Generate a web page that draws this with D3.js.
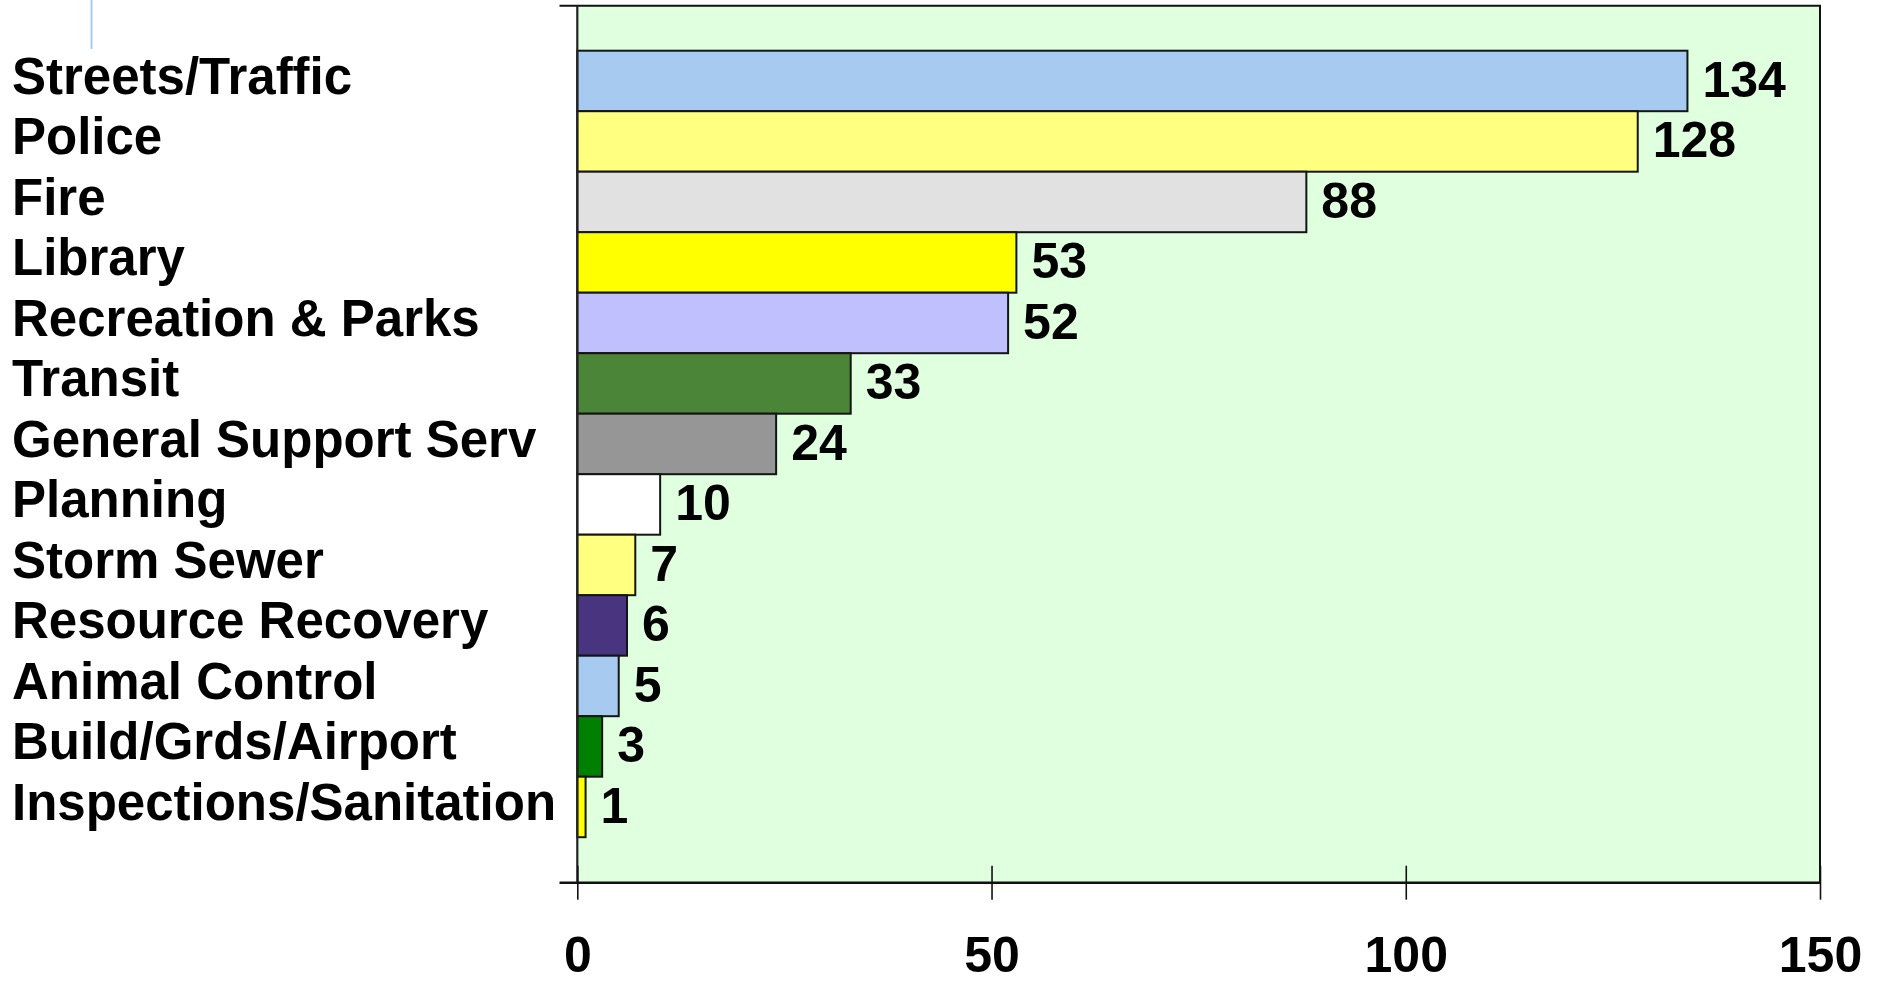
<!DOCTYPE html>
<html>
<head>
<meta charset="utf-8">
<script src="https://cdn.jsdelivr.net/npm/d3@7"></script>
<style>
  html, body { margin: 0; padding: 0; background: #ffffff; }
  svg { display: block; }
  text { font-family: "Liberation Sans", Arial, sans-serif; font-weight: bold; fill: #000; }
</style>
</head>
<body>
<svg id="chart" width="1879" height="982"></svg>
<script>
// ---- data ----
const categories = [
  "Streets/Traffic", "Police", "Fire", "Library", "Recreation & Parks",
  "Transit", "General Support Serv", "Planning", "Storm Sewer",
  "Resource Recovery", "Animal Control", "Build/Grds/Airport",
  "Inspections/Sanitation"
];
const values = [134, 128, 88, 53, 52, 33, 24, 10, 7, 6, 5, 3, 1];
const barColors = [
  "#A6CAF0", "#FFFF80", "#E1E1E1", "#FFFF00", "#C0C0FF",
  "#4A8538", "#969696", "#FFFFFF", "#FFFF80",
  "#48347F", "#A6CAF0", "#008000", "#FFFF00"
];
const xTicks = [0, 50, 100, 150];
const xDomain = [0, 150];

// ---- layout ----
const W = 1879, H = 982;
const plot = { left: 577.3, right: 1820, top: 5.7, bottom: 882.7 };
const bandTop = 50.7, bandBottom = 837.2;

const svg = d3.select("#chart");

const x = d3.scaleLinear().domain(xDomain).range([plot.left, plot.right]);
const y = d3.scaleBand().domain(categories).range([bandTop, bandBottom]).paddingInner(0).paddingOuter(0);

// decorative blue line at top-left
svg.append("line")
  .attr("x1", 91.5).attr("x2", 91.5).attr("y1", 0).attr("y2", 49)
  .attr("stroke", "#A6CAF0").attr("stroke-width", 2);

// plot background
svg.append("rect")
  .attr("x", plot.left).attr("y", plot.top)
  .attr("width", plot.right - plot.left).attr("height", plot.bottom - plot.top)
  .attr("fill", "#DFFFDF");

// top border (extends left like a tick)
svg.append("line")
  .attr("x1", 559.5).attr("x2", plot.right + 1)
  .attr("y1", plot.top).attr("y2", plot.top)
  .attr("stroke", "#111").attr("stroke-width", 2);
// right border
svg.append("line")
  .attr("x1", plot.right).attr("x2", plot.right)
  .attr("y1", plot.top).attr("y2", plot.bottom)
  .attr("stroke", "#111").attr("stroke-width", 2);

// bars
const rows = categories.map((c, i) => ({ cat: c, val: values[i], color: barColors[i] }));
svg.append("g").selectAll("rect")
  .data(rows)
  .join("rect")
  .attr("x", x(0))
  .attr("y", d => y(d.cat))
  .attr("width", d => x(d.val) - x(0))
  .attr("height", y.bandwidth())
  .attr("fill", d => d.color)
  .attr("stroke", "#151515")
  .attr("stroke-width", 2);

// y axis line
svg.append("line")
  .attr("x1", plot.left).attr("x2", plot.left)
  .attr("y1", plot.top).attr("y2", plot.bottom)
  .attr("stroke", "#222").attr("stroke-width", 2.2);

// category labels
svg.append("g").selectAll("text")
  .data(rows)
  .join("text")
  .attr("x", 12)
  .attr("y", d => y(d.cat) + y.bandwidth() / 2 + 13)
  .attr("font-size", 51)
  .text(d => d.cat);

// value labels
svg.append("g").selectAll("text")
  .data(rows)
  .join("text")
  .attr("x", d => x(d.val) + 15)
  .attr("y", d => y(d.cat) + y.bandwidth() / 2 + 16)
  .attr("font-size", 50)
  .text(d => d.val);

// x axis
const xAxis = d3.axisBottom(x).tickValues(xTicks).tickSize(17).tickPadding(0);
const gx = svg.append("g").attr("transform", `translate(0,${plot.bottom})`).call(xAxis);
gx.select(".domain").remove();
gx.selectAll(".tick line")
  .attr("y1", -17).attr("y2", 17)
  .attr("stroke", "#111").attr("stroke-width", 1.6);
gx.selectAll(".tick text")
  .attr("y", 89).attr("dy", null)
  .attr("font-size", 50)
  .attr("font-family", "'Liberation Sans', Arial, sans-serif")
  .attr("font-weight", "bold")
  .attr("fill", "#000");

svg.append("line")
  .attr("x1", 559.5).attr("x2", plot.right + 1)
  .attr("y1", plot.bottom).attr("y2", plot.bottom)
  .attr("stroke", "#111").attr("stroke-width", 2.4);
</script>
</body>
</html>
